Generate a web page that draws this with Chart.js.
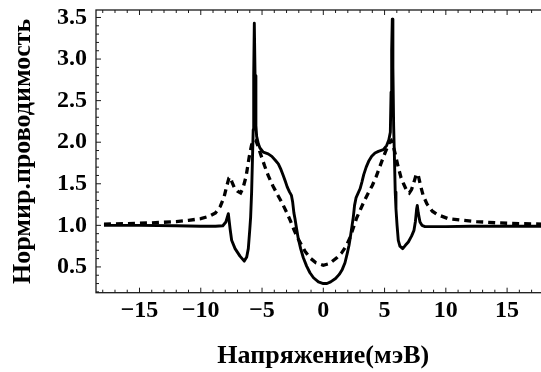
<!DOCTYPE html>
<html>
<head>
<meta charset="utf-8">
<script src="https://cdn.jsdelivr.net/npm/chart.js@4"></script>
<style>
  html, body { margin: 0; padding: 0; background: #fff; overflow: hidden; }
  #wrap { width: 562px; height: 372px; }
</style>
</head>
<body>
<div id="wrap"><canvas id="cond" width="562" height="372"></canvas></div>
<script>
// Normalised conductance vs bias voltage (meV)
const solidV = [-17.9, -15, -12, -10, -8.8, -8.2, -7.95, -7.75, -7.6, -7.48, -7.2, -6.8, -6.45, -6.25, -6.12, -6.0, -5.93,
  -5.85, -5.78, -5.72, -5.68, -5.63, -5.57, -5.5, -5.44, -5.3, -5.17, -4.9, -4.5, -4.2, -3.9, -3.67, -3.45, -3.27,
  -3.1, -2.94, -2.75, -2.6, -2.5, -2.4, -2.31, -2.17, -2.04, -1.85, -1.63, -1.36, -1.09, -0.8, -0.4, 0, 0.3, 0.6,
  1.0, 1.3, 1.55, 1.77, 1.95, 2.1, 2.2, 2.35, 2.45, 2.55, 2.67, 2.85, 3.0, 3.15, 3.3, 3.5, 3.7, 3.95, 4.22, 4.5,
  4.9, 5.17, 5.35, 5.47, 5.53, 5.58, 5.63, 5.68, 5.74, 5.8, 5.87, 5.93, 6.02, 6.12, 6.25, 6.48, 6.7, 6.94, 7.2, 7.4,
  7.52, 7.62, 7.67, 7.75, 7.89, 8.05, 8.3, 10, 12, 15, 17.9];
const solidG = [1.0, 1.0, 0.995, 0.99, 0.99, 0.995, 1.04, 1.14, 0.95, 0.82, 0.72, 0.63, 0.57, 0.62, 0.72, 0.95, 1.1,
  1.4, 1.8, 2.15, 2.8, 3.43, 2.8, 2.2, 2.07, 1.98, 1.93, 1.88, 1.86, 1.83, 1.78, 1.74, 1.67, 1.6,
  1.53, 1.46, 1.4, 1.36, 1.28, 1.15, 1.08, 0.95, 0.84, 0.72, 0.61, 0.51, 0.43, 0.37, 0.32, 0.3, 0.3, 0.32,
  0.36, 0.41, 0.47, 0.55, 0.66, 0.76, 0.85, 1.0, 1.1, 1.24, 1.33, 1.39, 1.44, 1.52, 1.61, 1.7, 1.77, 1.83, 1.87, 1.89,
  1.91, 1.96, 2.03, 2.12, 2.6, 3.1, 3.48, 2.9, 2.2, 1.85, 1.4, 1.2, 1.0, 0.82, 0.75, 0.72, 0.76, 0.8, 0.87, 0.94,
  1.05, 1.2, 1.24, 1.15, 1.04, 1.0, 0.985, 0.985, 0.99, 0.99, 0.99];

const dashV = [-17.9, -16, -14, -12, -11, -10, -9.3, -8.8, -8.4, -8.1, -7.9, -7.7, -7.6, -7.45, -7.25, -7.0, -6.75,
  -6.55, -6.3, -6.05, -5.85, -5.65, -5.5, -5.3, -5.1, -4.8, -4.5, -4.1, -3.7, -3.4, -3.0, -2.7, -2.4, -2.1, -1.8,
  -1.5, -1.1, -0.6, 0, 0.5, 1.1, 1.5, 1.9, 2.2, 2.45, 2.7, 3.0, 3.3, 3.67, 4.0, 4.3, 4.6, 4.85, 5.17, 5.4, 5.55,
  5.7, 5.85, 6.1, 6.35, 6.55, 6.8, 7.02, 7.2, 7.4, 7.6, 7.75, 7.95, 8.15, 8.45, 8.9, 9.3, 10.2, 11.4, 12.5, 14.2,
  16, 17.9];
const dashG = [1.015, 1.02, 1.03, 1.045, 1.06, 1.08, 1.11, 1.15, 1.23, 1.34, 1.46, 1.57, 1.58, 1.52, 1.45, 1.41, 1.39,
  1.45, 1.59, 1.82, 1.97, 2.03, 2.02, 1.94, 1.85, 1.72, 1.6, 1.47, 1.36, 1.28, 1.16, 1.06, 0.95, 0.85, 0.77,
  0.69, 0.61, 0.55, 0.52, 0.54, 0.61, 0.67, 0.76, 0.86, 0.97, 1.08, 1.18, 1.28, 1.39, 1.48, 1.58, 1.7, 1.8, 1.92, 2.0, 2.02,
  1.96, 1.87, 1.71, 1.57, 1.5, 1.42, 1.39, 1.43, 1.52, 1.62, 1.6, 1.47, 1.36, 1.26, 1.17, 1.13, 1.08, 1.06, 1.045, 1.03,
  1.02, 1.015];

const xTicks = [-15, -10, -5, 0, 5, 10, 15];
const yTicks = [0.5, 1.0, 1.5, 2.0, 2.5, 3.0, 3.5];

const toPoints = (xs, ys) => xs.map((x, i) => ({ x: x, y: ys[i] }));
const serif = 'Liberation Serif';

// frame with inward major/minor ticks on every side
const framePlugin = {
  id: 'frame',
  afterDatasetsDraw(chart) {
    const ctx = chart.ctx;
    const a = chart.chartArea;
    const xs = chart.scales.x, ys = chart.scales.y;
    ctx.save();
    ctx.strokeStyle = '#1a1a1a';
    ctx.lineWidth = 1.3;
    ctx.strokeRect(a.left, a.top, a.right - a.left, a.bottom - a.top);
    ctx.lineWidth = 1;
    ctx.beginPath();
    for (let v = Math.ceil(xs.min); v <= xs.max; v++) {
      const px = xs.getPixelForValue(v);
      const len = v % 5 === 0 ? 5 : 3;
      ctx.moveTo(px, a.bottom); ctx.lineTo(px, a.bottom - len);
      ctx.moveTo(px, a.top); ctx.lineTo(px, a.top + len);
    }
    for (let k = Math.ceil(ys.min * 10); k <= ys.max * 10; k++) {
      const py = ys.getPixelForValue(k / 10);
      const len = k % 5 === 0 ? 5 : 3;
      ctx.moveTo(a.left, py); ctx.lineTo(a.left + len, py);
      ctx.moveTo(a.right, py); ctx.lineTo(a.right - len, py);
    }
    ctx.stroke();
    ctx.restore();
  }
};

new Chart(document.getElementById('cond'), {
  type: 'scatter',
  data: {
    datasets: [
      {
        data: toPoints(solidV, solidG),
        showLine: true,
        borderColor: '#000',
        borderWidth: 2.9,
        borderJoinStyle: 'round',
        pointRadius: 0,
        tension: 0
      },
      {
        data: toPoints(dashV, dashG),
        showLine: true,
        borderColor: '#000',
        borderWidth: 3.3,
        borderDash: [7, 5],
        pointRadius: 0,
        tension: 0
      }
    ]
  },
  options: {
    responsive: false,
    animation: false,
    layout: { padding: { left: 0, top: 10, right: 11.4, bottom: 0 } },
    plugins: { legend: { display: false }, tooltip: { enabled: false } },
    scales: {
      x: {
        type: 'linear',
        min: -18.55,
        max: 18.55,
        grid: { display: false, drawTicks: false },
        border: { display: false },
        afterBuildTicks: s => { s.ticks = xTicks.map(v => ({ value: v })); },
        afterFit: s => { s.height = 79.3; s.paddingLeft = 0; s.paddingRight = 0; },
        ticks: {
          padding: 4,
          color: '#000',
          maxRotation: 0,
          font: { family: serif, size: 24, weight: 'bold' },
          callback: v => (v < 0 ? '\u2212' + Math.abs(v) : String(v))
        },
        title: {
          display: true,
          text: 'Напряжение(мэВ)',
          color: '#000',
          padding: { top: 0, bottom: 0 },
          font: { family: serif, size: 26, weight: 'bold' }
        }
      },
      y: {
        type: 'linear',
        min: 0.19,
        max: 3.59,
        grid: { display: false, drawTicks: false },
        border: { display: false },
        afterBuildTicks: s => { s.ticks = yTicks.map(v => ({ value: v })); },
        afterFit: s => { s.width = 96; s.paddingTop = 0; s.paddingBottom = 0; },
        ticks: {
          padding: 9,
          color: '#000',
          font: { family: serif, size: 24, weight: 'bold' },
          callback: v => v.toFixed(1)
        },
        title: {
          display: true,
          text: 'Нормир.проводимость',
          color: '#000',
          padding: { top: 7.4, bottom: 0 },
          font: { family: serif, size: 26, weight: 'bold' }
        }
      }
    }
  },
  plugins: [framePlugin]
});
</script>
</body>
</html>
